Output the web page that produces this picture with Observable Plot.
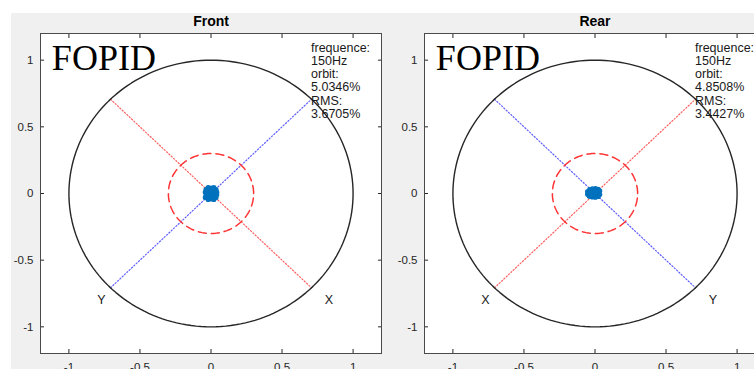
<!DOCTYPE html>
<html><head><meta charset="utf-8">
<script src="https://cdn.jsdelivr.net/npm/d3@7"></script>
<script src="https://cdn.jsdelivr.net/npm/@observablehq/plot@0.6"></script>
<style>
html,body{margin:0;padding:0;width:754px;height:369px;overflow:hidden;background:#fff;position:relative;}
#bg{position:absolute;left:11px;top:13px;width:760px;height:370px;background:#f0f0f0;}
.panel{position:absolute;top:0;width:400px;}
.panel svg{max-width:none !important;}
</style></head><body>
<div id="bg"></div>
<div id="p0" class="panel" style="left:0px"></div>
<div id="p1" class="panel" style="left:384px"></div>
<script>
// ---- data ----
const panelTitles = ["Front", "Rear"];
const methodLabel = ["FOPID", "FOPID"];
const frequency = ["150Hz", "150Hz"];
const orbitPct = ["5.0346%", "4.8508%"];
const rmsPct = ["3.6705%", "3.4427%"];
const tickValues = [-1, -0.5, 0, 0.5, 1];
const tickLabels = ["-1", "-0.5", "0", "0.5", "1"];
const outerRadius = 1;
const toleranceRadius = 0.3;
// sensor axis lines (end points) per panel: X red, Y blue
const frontXLine = [[-0.707, 0.707], [0.707, -0.707]];
const frontYLine = [[-0.707, -0.707], [0.707, 0.707]];
const rearXLine = [[-0.707, -0.707], [0.707, 0.707]];
const rearYLine = [[-0.707, 0.707], [0.707, -0.707]];
const frontAxisLabels = [["Y", -0.8, -0.8], ["X", 0.8, -0.8]];
const rearAxisLabels = [["X", -0.8, -0.8], ["Y", 0.8, -0.8]];
// measured orbit points (normalized displacement)
const frontOrbit = [[0.035,0.03],[0.02,0.045],[0,0.04],[-0.02,0.045],[-0.035,0.03],[-0.04,0.01],[-0.035,-0.015],[-0.04,-0.03],[-0.02,-0.045],[0,-0.04],[0.02,-0.045],[0.035,-0.03],[0.04,-0.01],[0.04,0.01],[0.015,0.015],[-0.015,0.015],[-0.015,-0.015],[0.015,-0.015],[0,0]];
const rearOrbit = [[0.033,0.019],[0.023,0.032],[0.003,0.036],[-0.019,0.034],[-0.037,0.029],[-0.052,0.014],[-0.052,-0.006],[-0.039,-0.021],[-0.019,-0.026],[0.003,-0.028],[0.023,-0.022],[0.033,-0.008],[0.013,0.014],[-0.027,0.014],[-0.027,-0.006],[0.013,-0.006],[-0.007,0.004]];

const xLines = [frontXLine, rearXLine];
const yLines = [frontYLine, rearYLine];
const axisLabels = [frontAxisLabels, rearAxisLabels];
const orbits = [frontOrbit, rearOrbit];

function circlePts(r) {
  return d3.range(0, 361, 2).map(a => [r * Math.cos(a * Math.PI / 180), r * Math.sin(a * Math.PI / 180)]);
}

function panel(i) {
  const fmt = d => tickLabels[tickValues.indexOf(d)];
  const noText = () => "";
  const sans = "'Liberation Sans', Arial, Helvetica, sans-serif";
  const stats = `frequence:\n${frequency[i]}\norbit:\n${orbitPct[i]}\nRMS:\n${rmsPct[i]}`;
  return Plot.plot({
    width: 40 + 341 + 3,
    height: 383,
    marginLeft: 40, marginRight: 3, marginTop: 33, marginBottom: 30,
    x: {domain: [-1.2, 1.2]},
    y: {domain: [-1.2, 1.2]},
    style: {background: "transparent", fontFamily: sans, color: "#262626", overflow: "visible", maxWidth: "none"},
    marks: [
      Plot.frame({fill: "white", stroke: "none"}),
      Plot.line(xLines[i], {x: d => d[0], y: d => d[1], stroke: "#ff2a2a", strokeWidth: 1.2, strokeDasharray: "1.2,2", strokeOpacity: 0.75}),
      Plot.line(yLines[i], {x: d => d[0], y: d => d[1], stroke: "#2a2aff", strokeWidth: 1.2, strokeDasharray: "1.2,2", strokeOpacity: 0.75}),
      Plot.line(circlePts(outerRadius), {x: d => d[0], y: d => d[1], stroke: "#262626", strokeWidth: 1.4}),
      Plot.line(circlePts(toleranceRadius), {x: d => d[0], y: d => d[1], stroke: "#ff3333", strokeWidth: 1.5, strokeDasharray: "8,5"}),
      Plot.dot(orbits[i], {x: d => d[0], y: d => d[1], r: 2.6, fill: "#0072bd", stroke: "none"}),
      Plot.text(axisLabels[i], {x: d => d[1], y: d => d[2], text: d => d[0], textAnchor: "start", fontSize: 12.5, fill: "#1a1a1a"}),
      Plot.text([stats], {x: 0.704, y: 1.135, textAnchor: "start", lineAnchor: "top", fontSize: 12.5, lineHeight: 1.06, fill: "#1a1a1a"}),
      Plot.text([methodLabel[i]], {x: -1.12, y: 0.925, textAnchor: "start", lineAnchor: "bottom", fontFamily: "'Liberation Serif', 'Times New Roman', serif", fontSize: 36, fill: "#000"}),
      Plot.text([panelTitles[i]], {frameAnchor: "top", dy: -8, lineAnchor: "bottom", fontWeight: "bold", fontSize: 14, fill: "#000"}),
      Plot.axisX(tickValues, {anchor: "bottom", tickSize: 0, tickPadding: 9, tickFormat: fmt, fontSize: 11.5, label: null, fill: "#262626"}),
      Plot.axisY(tickValues, {anchor: "left", tickSize: 0, tickPadding: 7, tickFormat: fmt, fontSize: 11.5, label: null, fill: "#262626"}),
      Plot.axisX(tickValues, {anchor: "bottom", tickSize: -4, tickFormat: noText, label: null, stroke: "#262626"}),
      Plot.axisX(tickValues, {anchor: "top", tickSize: -4, tickFormat: noText, label: null, stroke: "#262626"}),
      Plot.axisY(tickValues, {anchor: "left", tickSize: -4, tickFormat: noText, label: null, stroke: "#262626"}),
      Plot.axisY(tickValues, {anchor: "right", tickSize: -4, tickFormat: noText, label: null, stroke: "#262626"}),
      Plot.frame({stroke: "#4a4a4a", strokeWidth: 1})
    ]
  });
}

document.getElementById("p0").appendChild(panel(0));
document.getElementById("p1").appendChild(panel(1));
</script></body></html>
